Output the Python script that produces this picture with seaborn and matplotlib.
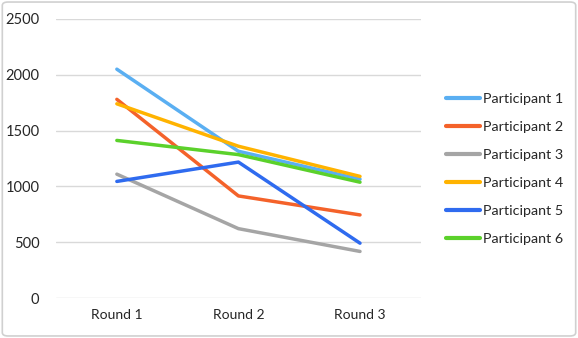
import matplotlib
matplotlib.use("Agg")
import matplotlib.pyplot as plt
import seaborn as sns
import pandas as pd
from matplotlib.patches import FancyBboxPatch

rounds = ["Round 1", "Round 2", "Round 3"]
participants = ["Participant 1", "Participant 2", "Participant 3",
                "Participant 4", "Participant 5", "Participant 6"]
p1 = [2050, 1315, 1065]
p2 = [1780, 915, 745]
p3 = [1110, 622, 418]
p4 = [1740, 1360, 1090]
p5 = [1045, 1218, 492]
p6 = [1412, 1285, 1038]
series = [p1, p2, p3, p4, p5, p6]
yticks = [0, 500, 1000, 1500, 2000, 2500]
colors = ["#5AAFF2", "#F4622A", "#A5A5A5", "#FFB300", "#2F6BEF", "#5BD12B"]

rows = []
for name, vals in zip(participants, series):
    for r, v in zip(rounds, vals):
        rows.append({"Round": r, "Value": v, "Participant": name})
df = pd.DataFrame(rows)

sns.set_style("white")
plt.rcParams["font.family"] = ["Lato", "DejaVu Sans"]

fig = plt.figure(figsize=(5.78, 3.38), dpi=100)
ax = fig.add_axes([0.097, 0.118, 0.631, 0.826])

sns.lineplot(data=df, x="Round", y="Value", hue="Participant",
             hue_order=participants, palette=colors, linewidth=2.5,
             sort=False, ax=ax)

ax.set_xlim(-0.5, 2.5)
ax.set_ylim(0, 2500)
ax.set_yticks(yticks)
ax.set_yticklabels([str(t) for t in yticks], fontsize=10.5)
ax.tick_params(axis="x", labelsize=10, length=0, pad=8)
ax.tick_params(axis="y", length=0, pad=12)
ax.set_xlabel("")
ax.set_ylabel("")
for s in ax.spines.values():
    s.set_visible(False)
ax.yaxis.grid(True, color="#D9D9D9", linewidth=1)
ax.set_axisbelow(True)

leg = ax.legend(loc="upper left", bbox_to_anchor=(1.068, 0.735), frameon=False,
                fontsize=10.3, handlelength=2.4, handletextpad=0.2,
                labelspacing=1.12, borderaxespad=0, borderpad=0)
for line in leg.get_lines():
    line.set_linewidth(3)

border = FancyBboxPatch((0.004, 0.006), 0.992, 0.988,
                        boxstyle="round,pad=0,rounding_size=0.01",
                        transform=fig.transFigure, fill=False,
                        edgecolor="#D0D0D0", linewidth=1.2)
fig.patches.append(border)

fig.savefig("out.png", dpi=100)
